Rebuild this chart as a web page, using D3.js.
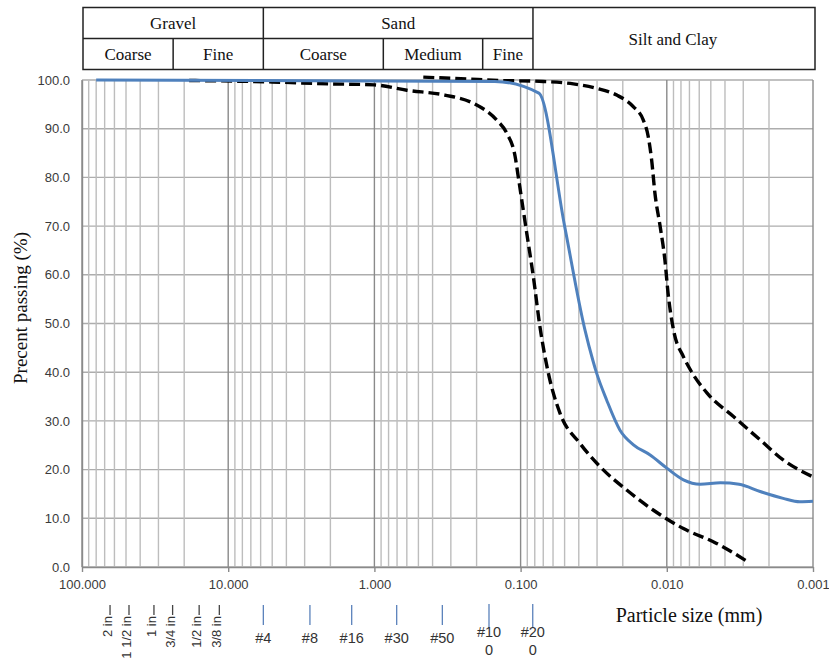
<!DOCTYPE html>
<html>
<head>
<meta charset="utf-8">
<script src="https://cdn.jsdelivr.net/npm/d3@7"></script>
<style>
  body { margin: 0; background: #fff; }
  svg { display: block; }
</style>
</head>
<body>
<svg width="829" height="661"></svg>
<script>
// Grain size distribution data (particle size in mm, percent passing)
var sampleSize = [80, 0.15, 0.075, 0.05, 0.0363, 0.0321, 0.0302, 0.0258, 0.0209, 0.0169, 0.013, 0.01, 0.0077, 0.0059, 0.0043, 0.0032, 0.0023, 0.0016, 0.00123, 0.001];
var samplePass = [100, 99.7, 97.3, 70, 48.7, 42.5, 39.8, 34.3, 28.1, 25.1, 23.0, 20.3, 17.9, 17.0, 17.3, 17.0, 15.5, 14.1, 13.4, 13.5];

// lower (coarse) envelope
var coarseSize = [18.5, 5, 2, 1, 0.6, 0.33, 0.21, 0.146, 0.1245, 0.109, 0.1037, 0.0959, 0.0886, 0.0818, 0.0737, 0.0646, 0.0538, 0.0393, 0.0286, 0.0188, 0.0124, 0.0077, 0.0046, 0.0028];
var coarsePass = [99.9, 99.6, 99.2, 99.0, 97.9, 96.9, 95.2, 91.8, 89.1, 84.3, 80.1, 73.3, 66.5, 59.6, 49.3, 39.8, 31.6, 25.4, 20.6, 15.8, 11.7, 7.9, 4.9, 1.1];

// upper (fine) envelope
var fineSize = [0.463, 0.234, 0.138, 0.07, 0.0436, 0.0302, 0.022, 0.0169, 0.0145, 0.0134, 0.0127, 0.01205, 0.0111, 0.0103, 0.0098, 0.009, 0.0077, 0.0069, 0.0053, 0.0035, 0.0023, 0.0016, 0.001];
var finePass = [100.6, 100.2, 99.9, 99.7, 99.2, 98.3, 96.9, 94.5, 91.8, 88.4, 83.6, 76.7, 69.9, 63.0, 56.2, 48.7, 43.2, 40.5, 35.7, 30.9, 26.1, 22.0, 18.5];

// axis ticks
var xDecades = [100, 10, 1, 0.1, 0.01, 0.001];
var yTicks = [0, 10, 20, 30, 40, 50, 60, 70, 80, 90, 100];

// sieve labels and where they sit along the size axis (mm)
var sieveLabels = ["2 in", "1 1/2 in", "1 in", "3/4 in", "1/2 in", "3/8 in", "#4", "#8", "#16", "#30", "#50", "#100", "#200"];
var sieveAt = [64.3, 47.7, 32.2, 24.0, 15.8, 11.5, 5.75, 2.76, 1.43, 0.704, 0.343, 0.1645, 0.0826];

// classification header
var soilGroups = ["Gravel", "Sand", "Silt and Clay"];
var soilGroupEdges = [100, 5.75, 0.0823, 0.001];
var soilSubs = ["Coarse", "Fine", "Coarse", "Medium", "Fine"];
var soilSubEdges = [100, 23.8, 5.75, 0.869, 0.1817, 0.0823];

var svg = d3.select("svg");

var x = d3.scaleLog().domain([100, 0.001]).range([82, 813]);
var y = d3.scaleLinear().domain([0, 100]).range([567, 80]);

var serif = "'Liberation Serif', 'Times New Roman', serif";
var sans = "'Liberation Sans', Arial, sans-serif";

// gridlines
var grid = svg.append("g").attr("class", "grid");
grid.selectAll("line.h")
    .data(yTicks)
    .enter().append("line")
    .attr("class", "h")
    .attr("x1", x(100)).attr("x2", x(0.001))
    .attr("y1", function(d) { return y(d); })
    .attr("y2", function(d) { return y(d); })
    .attr("stroke", "#adadad")
    .attr("stroke-width", 1.4);

grid.selectAll("line.v")
    .data(x.ticks())
    .enter().append("line")
    .attr("class", "v")
    .attr("x1", function(d) { return x(d); })
    .attr("x2", function(d) { return x(d); })
    .attr("y1", y(0)).attr("y2", y(100))
    .attr("stroke", function(d) {
        var l = Math.log10(d);
        return Math.abs(l - Math.round(l)) < 1e-6 ? "#8a8a8a" : "#bdbdbd";
    })
    .attr("stroke-width", 1.4);

// axes
var xAxis = svg.append("g")
    .attr("transform", "translate(0," + y(0) + ")")
    .call(d3.axisBottom(x).tickValues(xDecades).tickFormat(d3.format(".3f"))
        .tickSize(5).tickSizeOuter(0).tickPadding(8));

var yAxis = svg.append("g")
    .attr("transform", "translate(" + x(100) + ",0)")
    .call(d3.axisLeft(y).tickValues(yTicks).tickFormat(d3.format(".1f"))
        .tickSize(0).tickPadding(12));

svg.selectAll(".domain").attr("stroke", "#8a8a8a").attr("stroke-width", 1.4);
xAxis.selectAll(".tick line").attr("stroke", "#8a8a8a").attr("stroke-width", 1.4);
svg.selectAll(".tick text")
    .attr("font-family", sans)
    .attr("font-size", 13)
    .attr("fill", "#3a3a3a");

// curves
var line = d3.line()
    .x(function(d) { return x(d[0]); })
    .y(function(d) { return y(d[1]); })
    .curve(d3.curveMonotoneX);

var curves = svg.append("g");

curves.append("path")
    .datum(d3.zip(coarseSize, coarsePass))
    .attr("d", line)
    .attr("fill", "none")
    .attr("stroke", "#000")
    .attr("stroke-width", 3.4)
    .attr("stroke-dasharray", "11,5");

curves.append("path")
    .datum(d3.zip(fineSize, finePass))
    .attr("d", line)
    .attr("fill", "none")
    .attr("stroke", "#000")
    .attr("stroke-width", 3.4)
    .attr("stroke-dasharray", "11,5");

curves.append("path")
    .datum(d3.zip(sampleSize, samplePass))
    .attr("d", line)
    .attr("fill", "none")
    .attr("stroke", "#4f81bd")
    .attr("stroke-width", 3);

// header table
var tTop = 7.5, tMid = 38.5, tBot = 69.5;
var table = svg.append("g")
    .attr("font-family", serif)
    .attr("font-size", 17)
    .attr("fill", "#111");

table.append("rect")
    .attr("x", x(100) + 1).attr("y", tTop)
    .attr("width", x(0.001) - x(100) + 1).attr("height", tBot - tTop)
    .attr("fill", "none").attr("stroke", "#222").attr("stroke-width", 1.5);

// middle line under Gravel and Sand only
table.append("line")
    .attr("x1", x(100) + 1).attr("x2", x(soilGroupEdges[2]))
    .attr("y1", tMid).attr("y2", tMid)
    .attr("stroke", "#222").attr("stroke-width", 1.5);

table.selectAll("line.gv")
    .data(soilGroupEdges.slice(1, 3))
    .enter().append("line")
    .attr("x1", function(d) { return x(d); })
    .attr("x2", function(d) { return x(d); })
    .attr("y1", tTop).attr("y2", tBot)
    .attr("stroke", "#222").attr("stroke-width", 1.5);

table.selectAll("line.sv")
    .data([soilSubEdges[1], soilSubEdges[3], soilSubEdges[4]])
    .enter().append("line")
    .attr("x1", function(d) { return x(d); })
    .attr("x2", function(d) { return x(d); })
    .attr("y1", tMid).attr("y2", tBot)
    .attr("stroke", "#222").attr("stroke-width", 1.5);

table.selectAll("text.g")
    .data(soilGroups)
    .enter().append("text")
    .attr("text-anchor", "middle")
    .attr("x", function(d, i) {
        var a = i === 0 ? x(100) + 1 : x(soilGroupEdges[i]);
        return (a + x(soilGroupEdges[i + 1])) / 2;
    })
    .attr("y", function(d, i) { return i === 2 ? 44.5 : 28.8; })
    .text(function(d) { return d; });

table.selectAll("text.s")
    .data(soilSubs)
    .enter().append("text")
    .attr("text-anchor", "middle")
    .attr("x", function(d, i) {
        var a = i === 0 ? x(100) + 1 : x(soilSubEdges[i]);
        return (a + x(soilSubEdges[i + 1])) / 2;
    })
    .attr("y", 60)
    .text(function(d) { return d; });

// axis titles
svg.append("text")
    .attr("transform", "translate(27,308) rotate(-90)")
    .attr("text-anchor", "middle")
    .attr("font-family", serif)
    .attr("font-size", 19)
    .attr("fill", "#111")
    .text("Precent passing (%)");

svg.append("text")
    .attr("x", 689)
    .attr("y", 621.5)
    .attr("text-anchor", "middle")
    .attr("font-family", serif)
    .attr("font-size", 20)
    .attr("fill", "#111")
    .text("Particle size (mm)");

// sieve labels under the axis
var sieves = svg.append("g")
    .attr("font-family", sans)
    .attr("font-size", 14.5)
    .attr("fill", "#333");

sieveLabels.forEach(function(lab, i) {
    var sx = x(sieveAt[i]);
    if (lab.indexOf("in") >= 0) {
        sieves.append("line")
            .attr("x1", sx).attr("x2", sx)
            .attr("y1", 605).attr("y2", 615)
            .attr("stroke", "#444").attr("stroke-width", 1.3);
        sieves.append("text")
            .attr("transform", "translate(" + (sx + 2) + ",616) rotate(-90)")
            .attr("text-anchor", "end")
            .attr("font-size", 13)
            .text(lab);
    } else if (lab.length > 3) {
        sieves.append("line")
            .attr("x1", sx).attr("x2", sx)
            .attr("y1", 604).attr("y2", 628)
            .attr("stroke", "#5b82bb").attr("stroke-width", 1.3);
        sieves.append("text")
            .attr("x", sx).attr("y", 637)
            .attr("text-anchor", "middle")
            .text(lab.slice(0, 3));
        sieves.append("text")
            .attr("x", sx).attr("y", 655)
            .attr("text-anchor", "middle")
            .text(lab.slice(3));
    } else {
        sieves.append("line")
            .attr("x1", sx).attr("x2", sx)
            .attr("y1", 605).attr("y2", 625)
            .attr("stroke", "#5b82bb").attr("stroke-width", 1.3);
        sieves.append("text")
            .attr("x", sx).attr("y", 643)
            .attr("text-anchor", "middle")
            .text(lab);
    }
});
</script>
</body>
</html>
